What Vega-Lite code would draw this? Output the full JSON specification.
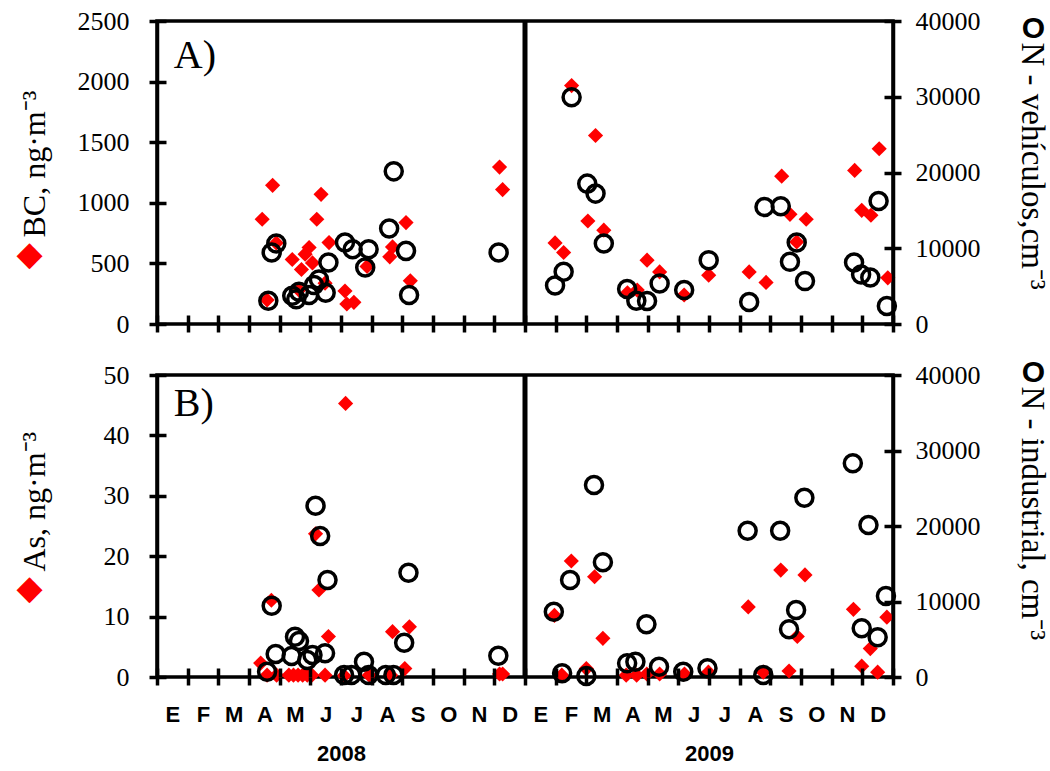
{
  "$schema": "https://vega.github.io/schema/vega-lite/v6.json",
  "background": "white",
  "padding": {"left": 14, "top": 6, "right": 0, "bottom": 0},
  "bounds": "flush",
  "spacing": 51,
  "config": {
    "view": {"stroke": "black", "strokeWidth": 3.5},
    "axis": {
      "domainColor": "black", "domainWidth": 3.5, "tickColor": "black", "tickWidth": 3.5, "tickSize": 10, "tickOpacity": 1,
      "labelFont": "Liberation Serif", "labelFontSize": 26, "labelColor": "black", "grid": false,
      "titleColor": "black", "titleFont": "Liberation Serif", "titleFontWeight": "normal"
    }
  },
  "datasets": {
    "sep": [{"m": 12}],
    "bc": [
      {"m": 3.43, "BC": 864}, {"m": 3.59, "BC": 198}, {"m": 3.77, "BC": 1144}, {"m": 3.89, "BC": 669},
      {"m": 4.41, "BC": 532}, {"m": 4.63, "BC": 280}, {"m": 4.71, "BC": 450}, {"m": 4.83, "BC": 576},
      {"m": 4.96, "BC": 631}, {"m": 5.07, "BC": 504}, {"m": 5.21, "BC": 864}, {"m": 5.35, "BC": 1070},
      {"m": 5.48, "BC": 337}, {"m": 5.61, "BC": 672}, {"m": 6.13, "BC": 272}, {"m": 6.19, "BC": 165},
      {"m": 6.42, "BC": 179}, {"m": 6.85, "BC": 475}, {"m": 7.59, "BC": 554}, {"m": 7.68, "BC": 636},
      {"m": 8.12, "BC": 837}, {"m": 8.26, "BC": 356}, {"m": 11.17, "BC": 1295}, {"m": 11.27, "BC": 1109},
      {"m": 12.98, "BC": 669}, {"m": 13.26, "BC": 590}, {"m": 13.52, "BC": 1967}, {"m": 14.05, "BC": 850},
      {"m": 14.30, "BC": 1555}, {"m": 14.57, "BC": 774}, {"m": 15.34, "BC": 258}, {"m": 15.66, "BC": 280},
      {"m": 15.98, "BC": 527}, {"m": 16.39, "BC": 430}, {"m": 17.19, "BC": 239}, {"m": 17.99, "BC": 403},
      {"m": 19.31, "BC": 430}, {"m": 19.86, "BC": 343}, {"m": 20.37, "BC": 1220}, {"m": 20.64, "BC": 905},
      {"m": 20.86, "BC": 677}, {"m": 21.17, "BC": 864}, {"m": 22.75, "BC": 1267}, {"m": 22.98, "BC": 938},
      {"m": 23.28, "BC": 897}, {"m": 23.55, "BC": 1446}, {"m": 23.83, "BC": 381}
    ],
    "nveh": [
      {"m": 3.63, "N": 3069}, {"m": 3.74, "N": 9443}, {"m": 3.89, "N": 10628}, {"m": 4.41, "N": 3727},
      {"m": 4.54, "N": 3253}, {"m": 4.63, "N": 4254}, {"m": 4.96, "N": 3819}, {"m": 5.12, "N": 5136},
      {"m": 5.28, "N": 5887}, {"m": 5.50, "N": 4122}, {"m": 5.59, "N": 8126}, {"m": 6.13, "N": 10760},
      {"m": 6.38, "N": 9878}, {"m": 6.79, "N": 7467}, {"m": 6.90, "N": 9878}, {"m": 7.57, "N": 12604},
      {"m": 7.72, "N": 20150}, {"m": 8.12, "N": 9654}, {"m": 8.22, "N": 3819}, {"m": 11.14, "N": 9443},
      {"m": 12.98, "N": 5097}, {"m": 13.26, "N": 6888}, {"m": 13.52, "N": 29936}, {"m": 14.03, "N": 18530},
      {"m": 14.30, "N": 17213}, {"m": 14.57, "N": 10628}, {"m": 15.33, "N": 4610}, {"m": 15.63, "N": 3069},
      {"m": 15.98, "N": 3029}, {"m": 16.39, "N": 5360}, {"m": 17.19, "N": 4478}, {"m": 17.99, "N": 8429},
      {"m": 19.31, "N": 2897}, {"m": 19.81, "N": 15448}, {"m": 20.34, "N": 15541}, {"m": 20.64, "N": 8205},
      {"m": 20.86, "N": 10760}, {"m": 21.13, "N": 5663}, {"m": 22.73, "N": 8126}, {"m": 22.96, "N": 6545},
      {"m": 23.26, "N": 6150}, {"m": 23.53, "N": 16239}, {"m": 23.80, "N": 2371}
    ],
    "as": [
      {"m": 3.38, "As": 2.3}, {"m": 3.59, "As": 0.3}, {"m": 3.73, "As": 12.7}, {"m": 3.9, "As": 0.3},
      {"m": 4.3, "As": 0.3}, {"m": 4.45, "As": 0.3}, {"m": 4.6, "As": 0.3}, {"m": 4.75, "As": 0.3},
      {"m": 4.9, "As": 0.3}, {"m": 5.05, "As": 0.3}, {"m": 5.17, "As": 23.7}, {"m": 5.28, "As": 14.4},
      {"m": 5.48, "As": 0.3}, {"m": 5.59, "As": 6.7}, {"m": 6.1, "As": 0.2}, {"m": 6.15, "As": 45.3},
      {"m": 6.92, "As": 0.3}, {"m": 7.62, "As": 0.3}, {"m": 7.68, "As": 7.5}, {"m": 8.08, "As": 1.4},
      {"m": 8.23, "As": 8.3}, {"m": 11.17, "As": 0.5}, {"m": 11.27, "As": 0.5},
      {"m": 12.96, "As": 10.2}, {"m": 13.2, "As": 0.3}, {"m": 13.51, "As": 19.2}, {"m": 14.0, "As": 1.4},
      {"m": 14.27, "As": 16.6}, {"m": 14.54, "As": 6.4}, {"m": 15.3, "As": 0.3}, {"m": 15.64, "As": 0.3},
      {"m": 15.97, "As": 0.5}, {"m": 16.39, "As": 0.5}, {"m": 17.2, "As": 0.5}, {"m": 17.98, "As": 0.8},
      {"m": 19.28, "As": 11.6}, {"m": 19.77, "As": 0.8}, {"m": 20.34, "As": 17.7}, {"m": 20.61, "As": 1.0},
      {"m": 20.88, "As": 6.7}, {"m": 21.13, "As": 16.9}, {"m": 22.71, "As": 11.2}, {"m": 22.98, "As": 1.8},
      {"m": 23.26, "As": 4.7}, {"m": 23.5, "As": 0.8}, {"m": 23.8, "As": 9.9}
    ],
    "nind": [
      {"m": 3.59, "N": 706}, {"m": 3.74, "N": 9448}, {"m": 3.87, "N": 3046}, {"m": 4.39, "N": 2781},
      {"m": 4.50, "N": 5342}, {"m": 4.63, "N": 4768}, {"m": 4.90, "N": 2252}, {"m": 5.07, "N": 2914},
      {"m": 5.17, "N": 22693}, {"m": 5.32, "N": 18675}, {"m": 5.48, "N": 3135}, {"m": 5.56, "N": 12848},
      {"m": 6.10, "N": 265}, {"m": 6.34, "N": 265}, {"m": 6.75, "N": 2031}, {"m": 6.90, "N": 265},
      {"m": 7.46, "N": 265}, {"m": 7.71, "N": 265}, {"m": 8.06, "N": 4547}, {"m": 8.20, "N": 13819},
      {"m": 11.13, "N": 2826},
      {"m": 12.94, "N": 8653}, {"m": 13.21, "N": 486}, {"m": 13.47, "N": 12848}, {"m": 14.0, "N": 132},
      {"m": 14.25, "N": 25430}, {"m": 14.54, "N": 15188}, {"m": 15.33, "N": 1810}, {"m": 15.6, "N": 2031},
      {"m": 15.96, "N": 6976}, {"m": 16.37, "N": 1369}, {"m": 17.16, "N": 706}, {"m": 17.95, "N": 1148},
      {"m": 19.26, "N": 19382}, {"m": 19.77, "N": 265}, {"m": 20.32, "N": 19382}, {"m": 20.61, "N": 6313},
      {"m": 20.84, "N": 8874}, {"m": 21.11, "N": 23752}, {"m": 22.69, "N": 28300}, {"m": 22.98, "N": 6446},
      {"m": 23.2, "N": 20132}, {"m": 23.5, "N": 5258}, {"m": 23.77, "N": 10728}
    ]
  },
  "vconcat": [
    {
      "width": 736, "height": 303,
      "layer": [
        {"data": {"name": "sep"}, "mark": {"type": "rule", "strokeWidth": 5, "color": "black"},
          "encoding": {"x": {"field": "m", "type": "quantitative", "scale": {"domain": [0, 24], "nice": false, "zero": false},
            "axis": {"orient": "bottom", "values": [0,1,2,3,4,5,6,7,8,9,10,11,12,13,14,15,16,17,18,19,20,21,22,23,24], "labels": false, "domain": false, "title": null, "ticks": true, "tickSize": 8, "zindex": 2}}}},
        {"data": {"name": "bc"}, "mark": {"type": "point", "shape": "diamond", "filled": true, "color": "#ff0000", "size": 230, "opacity": 1},
          "encoding": {
            "x": {"field": "m", "type": "quantitative", "scale": {"domain": [0, 24], "nice": false, "zero": false}, "axis": null},
            "y": {"field": "BC", "type": "quantitative", "scale": {"domain": [0, 2500], "nice": false},
            "axis": {"orient": "left", "values": [0, 500, 1000, 1500, 2000, 2500], "format": "d", "ticks": true, "tickSize": 8, "zindex": 2, "labelPadding": 20, "labelOverlap": false, "labelFlush": false,
              "title": "BC, ng·m⁻³", "titleFontSize": 32, "titleAngle": -90, "titleAlign": "left", "titleBaseline": "alphabetic", "titleX": -113, "titleY": 216}}}},
        {"data": {"name": "nveh"}, "mark": {"type": "point", "shape": "circle", "filled": false, "color": "black", "strokeWidth": 3.5, "size": 290, "opacity": 1},
          "encoding": {
            "x": {"field": "m", "type": "quantitative", "scale": {"domain": [0, 24], "nice": false, "zero": false}, "axis": null},
            "y": {"field": "N", "type": "quantitative", "scale": {"domain": [0, 40000], "nice": false},
            "axis": {"orient": "right", "values": [0, 10000, 20000, 30000, 40000], "format": "d", "ticks": true, "tickSize": 8, "zindex": 2, "labelPadding": 14, "labelOverlap": false, "labelFlush": false,
              "title": "N - vehículos,cm⁻³", "titleFontSize": 33, "titleAngle": 90, "titleAlign": "left", "titleBaseline": "alphabetic", "titleX": 128, "titleY": 21}}}},
        {"data": {"name": "bc"}, "mark": {"type": "point", "opacity": 0},
          "encoding": {
            "x": {"field": "m", "type": "quantitative", "scale": {"domain": [0, 24], "nice": false, "zero": false},
              "axis": {"orient": "bottom", "values": [0,1,2,3,4,5,6,7,8,9,10,11,12,13,14,15,16,17,18,19,20,21,22,23,24], "labels": false, "domain": false, "title": null, "ticks": true, "tickSize": -9, "zindex": 2}},
            "y": {"field": "BC", "type": "quantitative", "scale": {"domain": [0, 2500], "nice": false},
            "axis": {"orient": "left", "values": [0, 500, 1000, 1500, 2000, 2500], "labels": false, "ticks": true, "tickSize": -9, "zindex": 2, "domain": false, "title": "◆", "titleFont": "DejaVu Sans", "titleFontSize": 34, "titleColor": "#ff0000", "titleAngle": 0, "titleAlign": "center", "titleBaseline": "middle", "titleX": -128, "titleY": 233}}}},
        {"data": {"name": "nveh"}, "mark": {"type": "point", "opacity": 0},
          "encoding": {
            "x": {"field": "m", "type": "quantitative", "scale": {"domain": [0, 24], "nice": false, "zero": false}, "axis": null},
            "y": {"field": "N", "type": "quantitative", "scale": {"domain": [0, 40000], "nice": false},
            "axis": {"orient": "right", "values": [0, 10000, 20000, 30000, 40000], "labels": false, "ticks": true, "tickSize": -9, "zindex": 2, "domain": false, "title": "O", "titleFont": "Liberation Sans", "titleFontWeight": "bold", "titleFontSize": 30, "titleAngle": 0, "titleAlign": "center", "titleBaseline": "middle", "titleX": 140, "titleY": 7}}}},
        {"data": {"values": [{"label": "A)"}]}, "mark": {"type": "text", "font": "Liberation Serif", "fontSize": 40, "align": "left", "baseline": "alphabetic", "color": "black"},
          "encoding": {
            "x": {"datum": 0.55, "type": "quantitative", "scale": {"domain": [0, 24], "nice": false, "zero": false}, "axis": null},
            "y": {"datum": 2115, "type": "quantitative", "scale": {"domain": [0, 2500], "nice": false}, "axis": null},
            "text": {"field": "label"}}}
      ],
      "resolve": {"scale": {"x": "independent", "y": "independent"}, "axis": {"x": "independent", "y": "independent"}}
    },
    {
      "width": 736, "height": 302,
      "layer": [
        {"data": {"name": "sep"}, "mark": {"type": "rule", "strokeWidth": 5, "color": "black"},
          "encoding": {"x": {"field": "m", "type": "quantitative", "scale": {"domain": [0, 24], "nice": false, "zero": false},
            "axis": {"orient": "bottom", "values": [0,1,2,3,4,5,6,7,8,9,10,11,12,13,14,15,16,17,18,19,20,21,22,23,24], "labels": false, "domain": false, "title": null, "ticks": true, "tickSize": 8, "zindex": 2}}}},
        {"data": {"name": "as"}, "mark": {"type": "point", "shape": "diamond", "filled": true, "color": "#ff0000", "size": 230, "opacity": 1},
          "encoding": {
            "x": {"field": "m", "type": "quantitative", "scale": {"domain": [0, 24], "nice": false, "zero": false},
              "axis": {"orient": "bottom", "values": [0.5,1.5,2.5,3.5,4.5,5.5,6.5,7.5,8.5,9.5,10.5,11.5,12.5,13.5,14.5,15.5,16.5,17.5,18.5,19.5,20.5,21.5,22.5,23.5],
                "ticks": false, "tickSize": 0, "domain": false, "title": null, "labelPadding": 27, "labelFont": "Liberation Sans", "labelFontSize": 22, "labelFontWeight": "bold",
                "labelOverlap": false, "labelFlush": false, "labelBound": false, "labelAngle": 0,
                "labelExpr": "['E','F','M','A','M','J','J','A','S','O','N','D'][floor(datum.value) % 12]"}},
            "y": {"field": "As", "type": "quantitative", "scale": {"domain": [0, 50], "nice": false},
            "axis": {"orient": "left", "values": [0, 10, 20, 30, 40, 50], "ticks": true, "tickSize": 8, "zindex": 2, "labelPadding": 20, "labelOverlap": false, "labelFlush": false,
              "title": "As, ng·m⁻³", "titleFontSize": 32, "titleAngle": -90, "titleAlign": "left", "titleBaseline": "alphabetic", "titleX": -113, "titleY": 196}}}},
        {"data": {"name": "nind"}, "mark": {"type": "point", "shape": "circle", "filled": false, "color": "black", "strokeWidth": 3.5, "size": 290, "opacity": 1},
          "encoding": {
            "x": {"field": "m", "type": "quantitative", "scale": {"domain": [0, 24], "nice": false, "zero": false},
              "axis": {"orient": "bottom", "values": [6, 18], "ticks": false, "tickSize": 0, "domain": false, "title": null, "labelPadding": 66,
                "labelFont": "Liberation Sans", "labelFontSize": 22, "labelFontWeight": "bold", "labelOverlap": false, "labelFlush": false, "labelBound": false, "labelAngle": 0,
                "labelExpr": "datum.value == 6 ? '2008' : '2009'"}},
            "y": {"field": "N", "type": "quantitative", "scale": {"domain": [0, 40000], "nice": false},
            "axis": {"orient": "right", "values": [0, 10000, 20000, 30000, 40000], "format": "d", "ticks": true, "tickSize": 8, "zindex": 2, "labelPadding": 14, "labelOverlap": false, "labelFlush": false,
              "title": "N - industrial, cm⁻³", "titleFontSize": 33, "titleAngle": 90, "titleAlign": "left", "titleBaseline": "alphabetic", "titleX": 128, "titleY": 11}}}},
        {"data": {"name": "as"}, "mark": {"type": "point", "opacity": 0},
          "encoding": {
            "x": {"field": "m", "type": "quantitative", "scale": {"domain": [0, 24], "nice": false, "zero": false},
              "axis": {"orient": "bottom", "values": [0,1,2,3,4,5,6,7,8,9,10,11,12,13,14,15,16,17,18,19,20,21,22,23,24], "labels": false, "domain": false, "title": null, "ticks": true, "tickSize": -9, "zindex": 2}},
            "y": {"field": "As", "type": "quantitative", "scale": {"domain": [0, 50], "nice": false},
            "axis": {"orient": "left", "values": [0, 10, 20, 30, 40, 50], "labels": false, "ticks": true, "tickSize": -9, "zindex": 2, "domain": false, "title": "◆", "titleFont": "DejaVu Sans", "titleFontSize": 34, "titleColor": "#ff0000", "titleAngle": 0, "titleAlign": "center", "titleBaseline": "middle", "titleX": -128, "titleY": 213}}}},
        {"data": {"name": "nind"}, "mark": {"type": "point", "opacity": 0},
          "encoding": {
            "x": {"field": "m", "type": "quantitative", "scale": {"domain": [0, 24], "nice": false, "zero": false}, "axis": null},
            "y": {"field": "N", "type": "quantitative", "scale": {"domain": [0, 40000], "nice": false},
            "axis": {"orient": "right", "values": [0, 10000, 20000, 30000, 40000], "labels": false, "ticks": true, "tickSize": -9, "zindex": 2, "domain": false, "title": "O", "titleFont": "Liberation Sans", "titleFontWeight": "bold", "titleFontSize": 30, "titleAngle": 0, "titleAlign": "center", "titleBaseline": "middle", "titleX": 140, "titleY": -3}}}},
        {"data": {"values": [{"label": "B)"}]}, "mark": {"type": "text", "font": "Liberation Serif", "fontSize": 40, "align": "left", "baseline": "alphabetic", "color": "black"},
          "encoding": {
            "x": {"datum": 0.55, "type": "quantitative", "scale": {"domain": [0, 24], "nice": false, "zero": false}, "axis": null},
            "y": {"datum": 43.2, "type": "quantitative", "scale": {"domain": [0, 50], "nice": false}, "axis": null},
            "text": {"field": "label"}}}
      ],
      "resolve": {"scale": {"x": "independent", "y": "independent"}, "axis": {"x": "independent", "y": "independent"}}
    }
  ]
}
